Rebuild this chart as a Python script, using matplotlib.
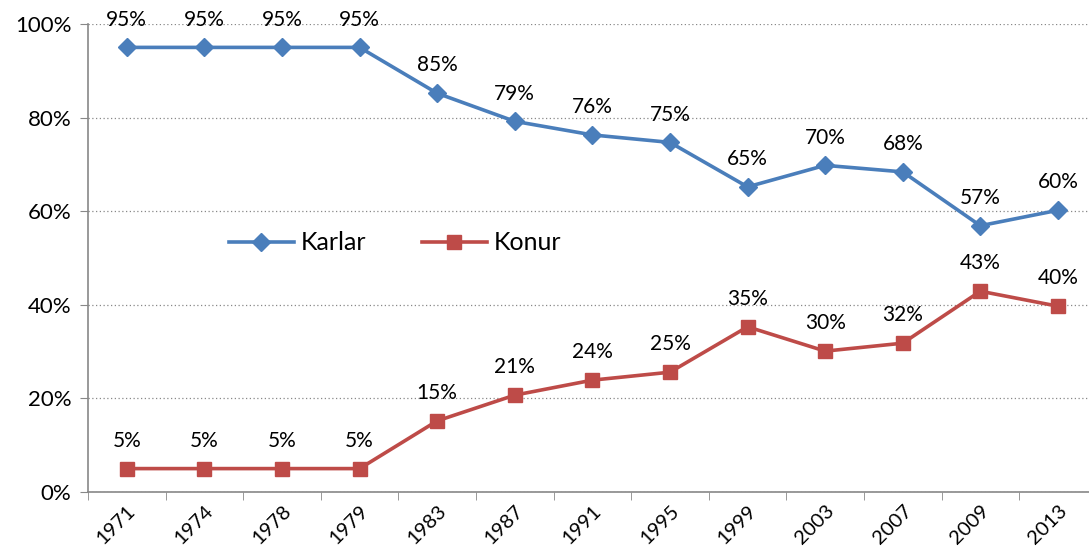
import matplotlib
matplotlib.use("Agg")
import matplotlib.pyplot as plt
import numpy as np

years = ["1971", "1974", "1978", "1979", "1983", "1987", "1991", "1995", "1999", "2003", "2007", "2009", "2013"]
karlar = [95, 95, 95, 95, 85.2, 79.2, 76.3, 74.7, 65.2, 69.8, 68.4, 56.9, 60.2]
konur = [5, 5, 5, 5, 15.2, 20.7, 23.9, 25.6, 35.3, 30.1, 31.8, 42.9, 39.7]
karlar_labels = ["95%", "95%", "95%", "95%", "85%", "79%", "76%", "75%", "65%", "70%", "68%", "57%", "60%"]
konur_labels = ["5%", "5%", "5%", "5%", "15%", "21%", "24%", "25%", "35%", "30%", "32%", "43%", "40%"]

plt.rcParams['font.family'] = ['Lato', 'DejaVu Sans']

fig = plt.figure(figsize=(10.89, 5.54), dpi=100)
ax = fig.add_axes([88/1089, 62/554, 1 - 88/1089, (492-24)/554])

x = np.arange(len(years))
blue = "#4A7EBB"
red = "#BE4B48"
ax.plot(x, karlar, color=blue, lw=2.6, marker="D", ms=9.5, label="Karlar", zorder=3)
ax.plot(x, konur, color=red, lw=2.6, marker="s", ms=10.5, label="Konur", zorder=3)

for xi, v, t in zip(x, karlar, karlar_labels):
    ax.annotate(t, (xi, v), xytext=(0, 20), textcoords="offset points",
                ha="center", va="center", fontsize=15)
for xi, v, t in zip(x, konur, konur_labels):
    ax.annotate(t, (xi, v), xytext=(0, 20), textcoords="offset points",
                ha="center", va="center", fontsize=15)

ax.set_ylim(0, 100)
ax.set_xlim(-0.48, 12.4)
ax.set_yticks([0, 20, 40, 60, 80, 100])
ax.set_yticklabels(["0%", "20%", "40%", "60%", "80%", "100%"], fontsize=16)
ax.set_xticks(x)
ax.set_xticklabels(years, rotation=45, ha="right", va="top", rotation_mode="anchor", fontsize=14.5)
ax.set_xticks(np.arange(-0.5, 12.5, 1), minor=True)
ax.tick_params(axis="x", which="major", length=0, pad=7)
ax.tick_params(axis="x", which="minor", length=6, color="#888888", direction="out")
ax.tick_params(axis="y", length=6, color="#888888", direction="out", pad=6)

for s in ["top", "right"]:
    ax.spines[s].set_visible(False)
for s in ["left", "bottom"]:
    ax.spines[s].set_color("#888888")
    ax.spines[s].set_linewidth(1.2)

ax.yaxis.grid(True, linestyle=(0, (1, 2)), color="#888888", lw=0.9)
ax.set_axisbelow(True)

leg = ax.legend(loc="center", ncol=2, frameon=False,
                fontsize=18, handlelength=2.6, columnspacing=2.2, handletextpad=0.3)
leg.set_bbox_to_anchor(((395-88)/(1089-88), (492-243)/468), transform=ax.transAxes)

fig.savefig("out.png", dpi=100)
